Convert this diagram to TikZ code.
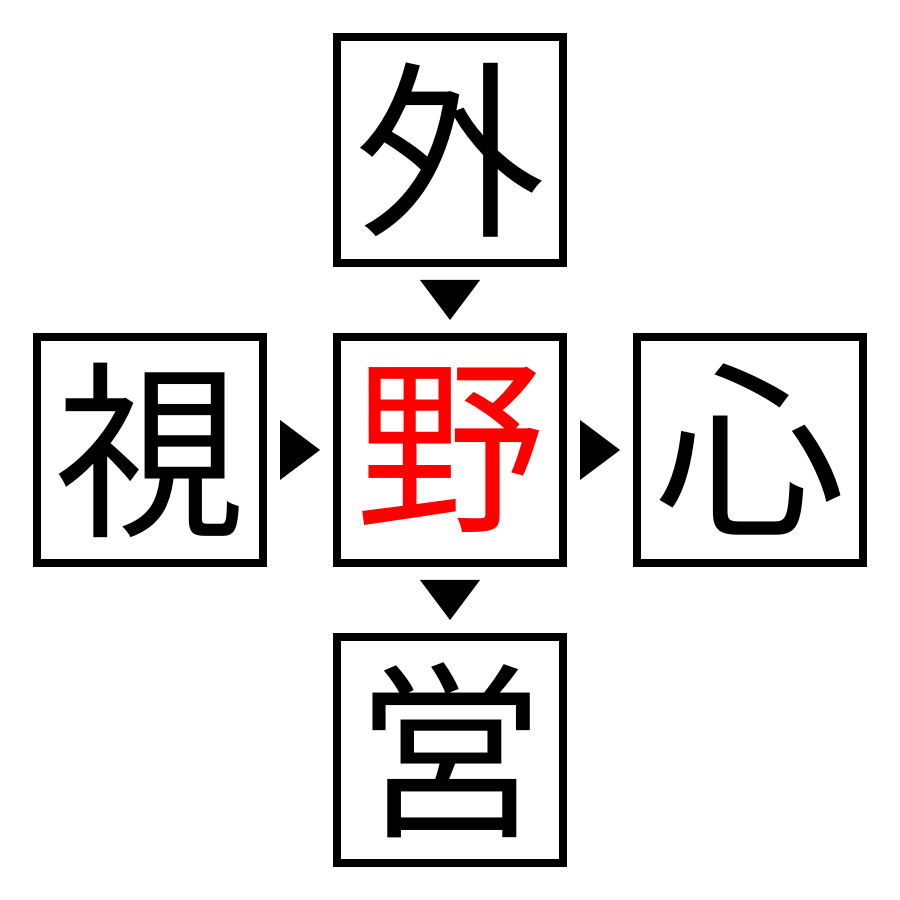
\documentclass[tikz,border=0pt]{standalone}
\usepackage{fontspec}
\newfontfamily\cjk{Noto Sans CJK JP}
\usepackage{tikz}
\usetikzlibrary{
    positioning,
    calc
}
\tikzstyle{kanji} = [
    draw,
    line width=0.08cm,
    minimum size=2.26cm,
    inner sep=0pt,
    font=\cjk\fontsize{54}{54}\selectfont
]
\tikzstyle{tip} = [
    fill=black
]

\begin{document}
\begin{tikzpicture}[node distance=3cm, on grid]
\useasboundingbox (0,0) rectangle (9,9);
\node[kanji] (mid) at (4.5,4.5) {\textcolor{red}{野}};
\node[kanji, above=of mid] (top) {外};
\node[kanji, below=of mid] (bot) {営};
\node[kanji, left=of mid] (lft) {視};
\node[kanji, right=of mid] (rgt) {心};
\coordinate (a) at ($(top.south)!0.5!(mid.north)$);
\coordinate (b) at ($(mid.south)!0.5!(bot.north)$);
\coordinate (c) at ($(lft.east)!0.5!(mid.west)$);
\coordinate (d) at ($(mid.east)!0.5!(rgt.west)$);
\fill[tip] (a) ++(-0.3,0.2) -- ++(0.6,0) -- ++(-0.3,-0.4) -- cycle;
\fill[tip] (b) ++(-0.3,0.2) -- ++(0.6,0) -- ++(-0.3,-0.4) -- cycle;
\fill[tip] (c) ++(-0.2,0.3) -- ++(0,-0.6) -- ++(0.4,0.3) -- cycle;
\fill[tip] (d) ++(-0.2,0.3) -- ++(0,-0.6) -- ++(0.4,0.3) -- cycle;
\end{tikzpicture}
\end{document}
